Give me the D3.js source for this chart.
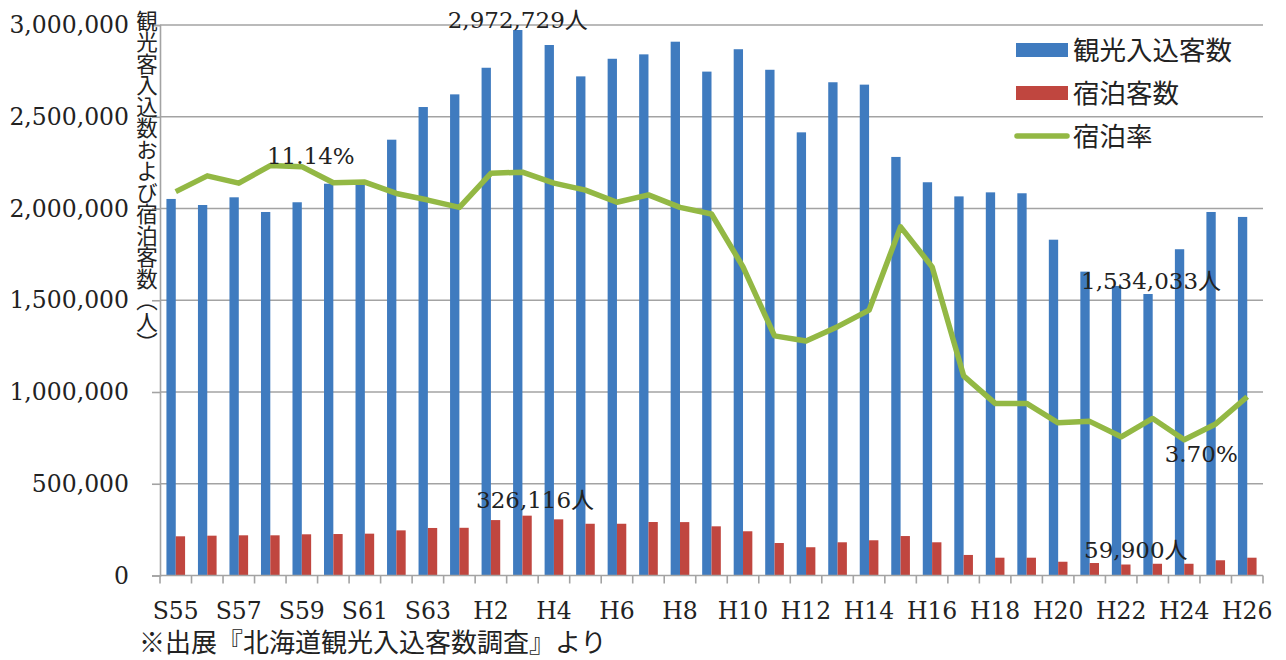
<!DOCTYPE html>
<html>
<head>
<meta charset="utf-8">
<script src="https://cdn.jsdelivr.net/npm/d3@7"></script>
<style>
  body { margin: 0; background: #fff; }
  svg { display: block; }
  text { fill: #222; }
  .num { font-family: "DejaVu Serif", "Noto Sans CJK JP", serif; font-size: 23.5px; }
  .jp { font-family: "Noto Sans CJK JP", sans-serif; }
</style>
</head>
<body>
<svg width="1286" height="660"></svg>
<script>
// categories (S55..S63, H1..H26)
var categories = ["S55","S56","S57","S58","S59","S60","S61","S62","S63",
  "H1","H2","H3","H4","H5","H6","H7","H8","H9","H10","H11","H12","H13","H14","H15","H16","H17","H18","H19","H20","H21","H22","H23","H24","H25","H26"];

// 観光入込客数
var visitors = [2052000, 2019000, 2061000, 1981000, 2034000, 2135000, 2140000, 2375000, 2553000,
  2622000, 2767000, 2972729, 2891000, 2720000, 2816000, 2840000, 2909000, 2746000, 2868000,
  2756000, 2415000, 2688000, 2675000, 2281000, 2143000, 2066000, 2088000, 2083000, 1830000,
  1656000, 1578000, 1534033, 1778000, 1981000, 1954000];

// 宿泊客数
var stays = [213600, 217000, 219000, 219000, 224500, 226000, 228000, 246000, 259000,
  260000, 302000, 326116, 306000, 282000, 282000, 291500, 291000, 268000, 241000,
  177000, 154000, 181000, 192000, 215000, 181000, 112000, 97000, 97000, 75000,
  68000, 59900, 64000, 64000, 83000, 97000];

// 宿泊率 (%)
var rates = [10.46, 10.89, 10.69, 11.17, 11.14, 10.70, 10.72, 10.41, 10.23,
  10.03, 10.96, 10.99, 10.69, 10.50, 10.17, 10.37, 10.03, 9.85, 8.41,
  6.53, 6.39, 6.78, 7.23, 9.50, 8.41, 5.44, 4.69, 4.69, 4.16,
  4.20, 3.78, 4.28, 3.70, 4.13, 4.87];

var yTicks = [0, 500000, 1000000, 1500000, 2000000, 2500000, 3000000];
var legendNames = ["観光入込客数", "宿泊客数", "宿泊率"];

var colors = {blue: "#3f7bbf", red: "#c0463f", green: "#93b844", grid: "#a3a3a3"};
var plot = {left: 160, right: 1263, top: 25, bottom: 575.5};

var svg = d3.select("svg");

var xScale = d3.scaleBand()
  .domain(categories)
  .range([plot.left, plot.right]);

var subScale = d3.scaleBand()
  .domain(["visitors", "stays"])
  .range([0, xScale.bandwidth()])
  .paddingOuter(0.69);

var yScale = d3.scaleLinear()
  .domain([0, 3000000])
  .range([plot.bottom, plot.top]);

var rScale = d3.scaleLinear()
  .domain([0, 15])
  .range([plot.bottom, plot.top]);

// gridlines
svg.append("g")
  .selectAll("line")
  .data(yTicks.slice(1))
  .enter()
  .append("line")
  .attr("x1", plot.left)
  .attr("x2", plot.right)
  .attr("y1", function(d) { return yScale(d); })
  .attr("y2", function(d) { return yScale(d); })
  .attr("stroke", colors.grid)
  .attr("stroke-width", 1.6);

// y axis
var yAxis = d3.axisLeft(yScale)
  .tickValues(yTicks)
  .tickSize(8)
  .tickPadding(23)
  .tickFormat(d3.format(","));

var gy = svg.append("g")
  .attr("transform", "translate(" + plot.left + ",0)")
  .call(yAxis);
gy.selectAll("path, line").attr("stroke", colors.grid).attr("stroke-width", 1.6);
gy.selectAll("text").attr("class", "num").attr("fill", "#222").attr("font-size", null).attr("font-family", null);

// x axis: boundary ticks
var bounds = categories.map(function(c) { return xScale(c); }).concat([plot.right]);
svg.append("g")
  .selectAll("line")
  .data(bounds)
  .enter()
  .append("line")
  .attr("x1", function(d) { return d; })
  .attr("x2", function(d) { return d; })
  .attr("y1", plot.bottom)
  .attr("y2", plot.bottom + 8)
  .attr("stroke", colors.grid)
  .attr("stroke-width", 1.6);

// bars
var visitorBars = svg.append("g").attr("fill", colors.blue);
visitorBars.selectAll("rect")
  .data(visitors)
  .enter()
  .append("rect")
  .attr("x", function(d, i) { return xScale(categories[i]) + subScale("visitors"); })
  .attr("width", subScale.bandwidth())
  .attr("y", function(d) { return yScale(d); })
  .attr("height", function(d) { return yScale(0) - yScale(d); });

var stayBars = svg.append("g").attr("fill", colors.red);
stayBars.selectAll("rect")
  .data(stays)
  .enter()
  .append("rect")
  .attr("x", function(d, i) { return xScale(categories[i]) + subScale("stays"); })
  .attr("width", subScale.bandwidth())
  .attr("y", function(d) { return yScale(d); })
  .attr("height", function(d) { return yScale(0) - yScale(d); });

// x axis line
svg.append("line")
  .attr("x1", plot.left)
  .attr("x2", plot.right)
  .attr("y1", plot.bottom)
  .attr("y2", plot.bottom)
  .attr("stroke", colors.grid)
  .attr("stroke-width", 1.6);

// rate line
var lineGenerator = d3.line()
  .x(function(d, i) { return xScale(categories[i]) + xScale.bandwidth() / 2; })
  .y(function(d) { return rScale(d); });

svg.append("path")
  .datum(rates)
  .attr("fill", "none")
  .attr("stroke", colors.green)
  .attr("stroke-width", 5.5)
  .attr("stroke-linejoin", "round")
  .attr("d", lineGenerator);

// x labels, every other category
svg.append("g")
  .selectAll("text")
  .data(categories.filter(function(c, i) { return i % 2 == 0; }))
  .enter()
  .append("text")
  .attr("class", "num")
  .attr("x", function(d) { return xScale(d) + xScale.bandwidth() / 2; })
  .attr("y", plot.bottom + 43)
  .attr("text-anchor", "middle")
  .text(function(d) { return d; });

// y title (vertical)
svg.append("text")
  .attr("class", "jp")
  .attr("x", 147)
  .attr("y", 10)
  .style("writing-mode", "vertical-rl")
  .style("font-size", "21.5px")
  .text("観光客入込数および宿泊客数（人）");

// data labels
var fmt = d3.format(",");
var iMaxV = visitors.indexOf(d3.max(visitors));
var iMinV = visitors.indexOf(d3.min(visitors));
var iMaxS = stays.indexOf(d3.max(stays));
var iMinS = stays.indexOf(d3.min(stays));
var iMaxR = 4;
var iMinR = rates.indexOf(d3.min(rates));

var labels = [
  {x: xScale(categories[iMaxV]) + subScale("visitors") + subScale.bandwidth() / 2, y: yScale(visitors[iMaxV]) - 2, t: fmt(visitors[iMaxV]) + "人"},
  {x: xScale(categories[iMinV]) + subScale("visitors") + subScale.bandwidth() / 2 + 3, y: yScale(visitors[iMinV]) - 5, t: fmt(visitors[iMinV]) + "人"},
  {x: xScale(categories[iMaxS]) + subScale("stays") + subScale.bandwidth() / 2 + 8, y: yScale(stays[iMaxS]) - 8, t: fmt(stays[iMaxS]) + "人"},
  {x: xScale(categories[iMinS]) + subScale("stays") + subScale.bandwidth() / 2 + 10, y: yScale(stays[iMinS]) - 7, t: fmt(stays[iMinS]) + "人"},
  {x: xScale(categories[iMaxR]) + xScale.bandwidth() / 2 + 9, y: rScale(rates[iMaxR]) - 3, t: rates[iMaxR].toFixed(2) + "%"},
  {x: xScale(categories[iMinR]) + xScale.bandwidth() / 2 + 17, y: rScale(rates[iMinR]) + 22, t: rates[iMinR].toFixed(2) + "%"}
];

svg.append("g")
  .selectAll("text")
  .data(labels)
  .enter()
  .append("text")
  .attr("class", "num")
  .attr("x", function(d) { return d.x; })
  .attr("y", function(d) { return d.y; })
  .attr("text-anchor", "middle")
  .style("font-size", "23px")
  .text(function(d) { return d.t; });

// legend
var legend = svg.append("g").attr("transform", "translate(1016,50)");
var lg = legend.selectAll("g")
  .data(legendNames)
  .enter()
  .append("g")
  .attr("transform", function(d, i) { return "translate(0," + (i * 43) + ")"; });

lg.filter(function(d, i) { return i < 2; })
  .append("rect")
  .attr("x", 0)
  .attr("y", -7)
  .attr("width", 52)
  .attr("height", 14)
  .attr("fill", function(d, i) { return i == 0 ? colors.blue : colors.red; });

lg.filter(function(d, i) { return i == 2; })
  .append("line")
  .attr("x1", 1)
  .attr("x2", 51)
  .attr("y1", 0)
  .attr("y2", 0)
  .attr("stroke", colors.green)
  .attr("stroke-width", 5.5)
  .attr("stroke-linecap", "round");

lg.append("text")
  .attr("class", "jp")
  .attr("x", 57)
  .attr("y", 0)
  .attr("dy", "0.36em")
  .style("font-size", "26.5px")
  .text(function(d) { return d; });

// source note
svg.append("text")
  .attr("class", "jp")
  .attr("x", 139)
  .attr("y", 652)
  .style("font-size", "26px")
  .text("※出展『北海道観光入込客数調査』より");
</script>
</body>
</html>
